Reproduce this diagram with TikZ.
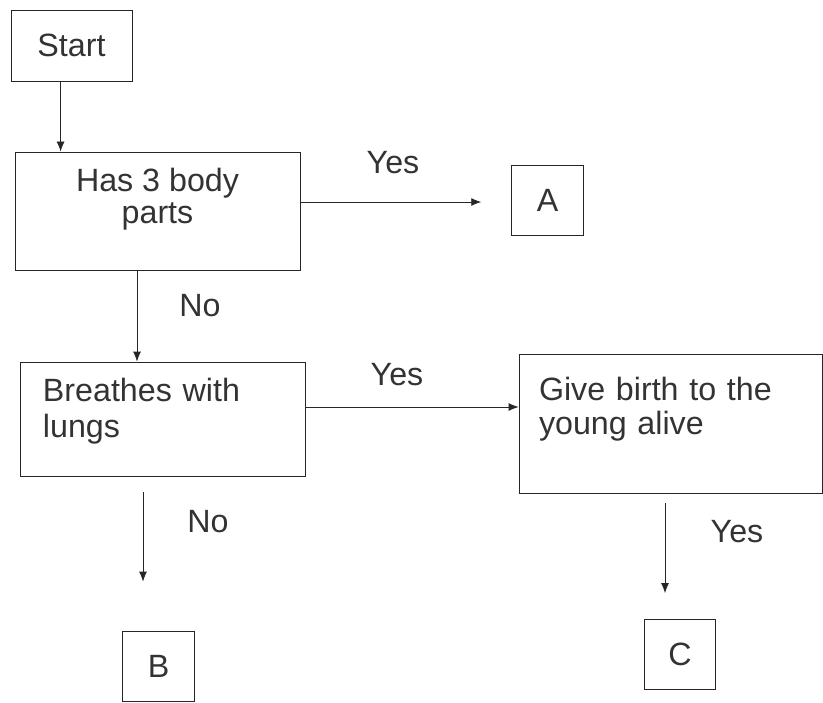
\documentclass[tikz,border=0pt]{standalone}
\usepackage{fontspec}
\setmainfont{Liberation Sans}
\usepackage{tikz}
\usetikzlibrary{arrows.meta, positioning, calc}
\tikzset{
  keybox/.style={
    draw=black!85, line width=0.7pt, align=center, text=black!80,
    font=\fontsize{27.5}{31}\selectfont, inner sep=0pt
  },
  leafbox/.style={
    keybox, minimum width=2.15cm, minimum height=2.1cm
  },
  keyarrow/.style={
    -{Latex[length=3mm,width=2.4mm]}, line width=0.7pt, draw=black!85
  },
  keylabel/.style={
    font=\fontsize{27.5}{31}\selectfont, text=black!80
  },
}
\newcommand{\padbelow}[1]{\rule[-#1]{0pt}{#1}}

\begin{document}
\begin{tikzpicture}[x=0.03cm, y=-0.03cm]
  \useasboundingbox (0,0) rectangle (823,702);

  % --- Questions ---
  \node[keybox, minimum width=3.63cm, minimum height=2.13cm] (start)
    at (71.5,45.5) {Start};

  \node[keybox, minimum width=8.55cm, minimum height=3.54cm] (body)
    at (157.5,211) {Has 3 body\\[-3pt]parts\padbelow{26pt}};

  \node[keybox, align=left, text width=7.17cm, inner xsep=0.69cm,
    minimum height=3.42cm] (lungs)
    at (162.5,419) {Breathes with\\lungs\padbelow{19pt}};

  \node[keybox, align=left, text width=7.89cm, inner xsep=0.6cm,
    minimum height=4.17cm] (birth)
    at (670.5,423.5) {Give birth to the\\[-2pt]young alive\padbelow{30pt}};

  % --- Answers ---
  \node[leafbox] (A) at (547.5,200.5) {A};
  \node[leafbox] (B) at (158.5,666) {B};
  \node[leafbox] (C) at (680,654.5) {C};

  % Arrows
  \coordinate (startfoot) at ($(start.south west)+(50,0)$);
  \draw[keyarrow] (startfoot) -- (startfoot |- body.north);

  \coordinate (yesAend) at ($(A.west)+(-30,1.5)$);
  \draw[keyarrow] (body.east |- yesAend) -- (yesAend);

  \coordinate (bodyfoot) at ($(body.south)+(-20.5,0)$);
  \draw[keyarrow] (bodyfoot) -- (bodyfoot |- lungs.north);

  \coordinate (lungsside) at ($(lungs.east)+(0,-12)$);
  \draw[keyarrow] (lungsside) -- (lungsside -| birth.west);

  \coordinate (noBstart) at ($(lungs.south -| B.north)+(-15.5,16)$);
  \coordinate (noBend) at ($(B.north)+(-15.5,-49)$);
  \draw[keyarrow] (noBstart) -- (noBend);

  \coordinate (yesCstart) at ($(birth.south -| C.north)+(-15,10)$);
  \coordinate (yesCend) at ($(C.north)+(-15,-26)$);
  \draw[keyarrow] (yesCstart) -- (yesCend);

  % Yes / No labels
  \node[keylabel] (yes1) at (393,163) {Yes};
  \node[keylabel] (no1) at (200,306) {No};
  \node[keylabel] (yes2) at (397,375) {Yes};
  \node[keylabel] (no2) at (208,522) {No};
  \node[keylabel] (yes3) at (737,532) {Yes};
\end{tikzpicture}
\end{document}
